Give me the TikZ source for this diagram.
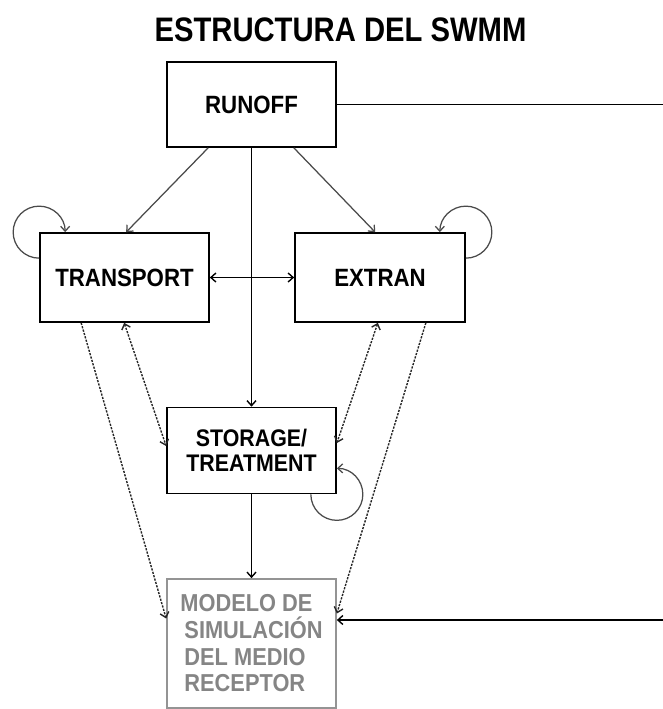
\documentclass[tikz,border=0pt]{standalone}
\usepackage{fontspec}
\setmainfont{Liberation Sans}[FakeStretch=0.89]
\newfontfamily\titlefont{Liberation Sans}[FakeStretch=0.86]
\usetikzlibrary{arrows.meta}
\definecolor{linegray}{HTML}{4A4A4A}
\definecolor{modgray}{HTML}{858585}
\tikzset{
  >={Straight Barb[length=5pt,width=9pt]},
  box/.style={draw=black, line width=1.7pt, rectangle, inner sep=0pt,
    minimum width=169pt, font=\fontsize{25}{27}\selectfont\bfseries, align=center},
  smallbox/.style={box, font=\fontsize{24}{25}\selectfont\bfseries},
  graybox/.style={box, draw=black!42, text=modgray,
    font=\fontsize{24.5}{26.7}\selectfont\bfseries, align=left},
  conn/.style={line width=1.4pt, draw=black},
  grayconn/.style={line width=1.25pt, draw=linegray},
  dashconn/.style={line width=1.4pt, draw=black!85, dash pattern=on 2.2pt off 1.3pt},
}
\begin{document}
\begin{tikzpicture}[x=1pt,y=1pt]
\useasboundingbox (0,0) rectangle (663,-709);
\node[font=\titlefont\fontsize{34}{36}\selectfont\bfseries] (title) at (340.5,-30) {ESTRUCTURA DEL SWMM};
\node[box, minimum height=85pt] (R) at (251.5,-104.5) {RUNOFF};
\node[box, minimum height=89pt] (T) at (124.5,-277.5) {TRANSPORT};
\node[box, minimum width=170pt, minimum height=89pt] (E) at (380,-277.5) {EXTRAN};
\node[smallbox, minimum height=86pt] (S) at (251.5,-450.5) {STORAGE/\\TREATMENT};
\node[graybox, minimum height=129pt] (M) at (251.5,-643.5) {MODELO DE\\\hspace*{4pt}SIMULACIÓN\\\hspace*{4pt}DEL MEDIO\\\hspace*{4pt}RECEPTOR};
% from RUNOFF
\draw[grayconn,->] ([xshift=42pt]R.south west) -- ([xshift=87pt]T.north west);
\draw[grayconn,->] ([xshift=-43pt]R.south east) -- ([xshift=81pt]E.north west);
\draw[conn,->] (R.south) -- (S.north);
\draw[conn,->] (R.east) -- ++(420,0) |- ([yshift=23.5pt]M.east);
% between TRANSPORT and EXTRAN
\draw[conn,<->] (T.east) -- (E.west);
% loops
\draw[grayconn,->] ([yshift=-26pt]T.north west) arc[start angle=270, end angle=0, radius=26pt];
\draw[grayconn,->] ([yshift=-26pt]E.north east) arc[start angle=-90, end angle=180, radius=26pt];
\draw[grayconn,->] ([xshift=-26pt]S.south east) arc[start angle=180, end angle=450, radius=26pt];
% dashed connectors
\draw[dashconn,<->] ([xshift=85pt]T.south west) -- ([yshift=4.5pt]S.west);
\draw[dashconn,<->] ([xshift=-88pt]E.south east) -- ([yshift=7.5pt]S.east);
\draw[dashconn,->] ([xshift=42pt]T.south west) -- ([yshift=25pt]M.west);
\draw[dashconn,->] ([xshift=-40pt]E.south east) -- ([yshift=30pt]M.east);
% storage to receptor
\draw[conn,->] (S.south) -- (M.north);
\end{tikzpicture}
\end{document}
